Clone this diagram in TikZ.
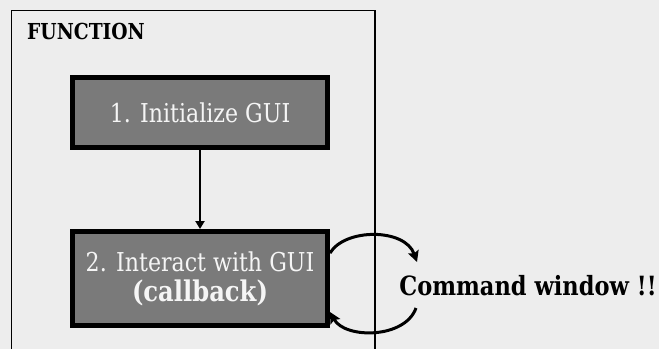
\documentclass[tikz,border=0pt]{standalone}
\usepackage{fontspec}
\setmainfont{DejaVu Serif}[FakeStretch=0.85]
\usetikzlibrary{arrows.meta,calc}
\definecolor{pagebg}{RGB}{237,237,237}
\definecolor{stepfill}{RGB}{122,122,122}
\definecolor{steptext}{RGB}{245,245,245}
\begin{document}
\begin{tikzpicture}[x=1pt,y=-1pt,
  stepbox/.style={draw=black,line width=5pt,fill=stepfill,text=steptext,
    minimum width=255pt,inner sep=0pt,align=center,
    font=\fontsize{26}{30}\selectfont},
  flowarrow/.style={line width=2.6pt,-{Triangle[length=8pt,width=9pt]}},
  looparrow/.style={line width=3pt,-{Stealth[length=11pt,width=11pt,inset=2pt]}}]
  % page background
  \fill[pagebg] (0,0) rectangle (659,349);
  \useasboundingbox (0,0) rectangle (659,349);
  % function frame, open at the bottom
  \draw[line width=1.8pt] (11.5,349) |- (375,10.5) -- (375,349);
  \node[anchor=base west,inner sep=0pt,font=\fontsize{22}{26}\selectfont\bfseries]
    (func) at (27,39) {FUNCTION};
  % the two steps
  \node[stepbox,minimum height=70pt] (box1) at (200,112.5) {1. Initialize GUI};
  \node[stepbox,minimum height=94pt] (box2) at (200,278.5)
    {2. Interact with GUI\\\fontsize{28.5}{30}\selectfont\bfseries (callback)};
  \draw[flowarrow] (box1.south) -- (box2.north);
  % command window
  \node[anchor=base,inner sep=0pt,font=\fontsize{26.5}{32}\selectfont\bfseries]
    (cmd) at (528,295) {Command window !!};
  \coordinate (cmdin) at (417,262);
  \coordinate (cmdout) at (416,308);
  \draw[looparrow] ($(box2.east)+(0,-25.5)$) .. controls (345,228) and (405,228) .. (cmdin);
  \draw[looparrow] (cmdout) .. controls (405,339) and (345,339) .. ($(box2.east)+(0,33.5)$);
\end{tikzpicture}
\end{document}
